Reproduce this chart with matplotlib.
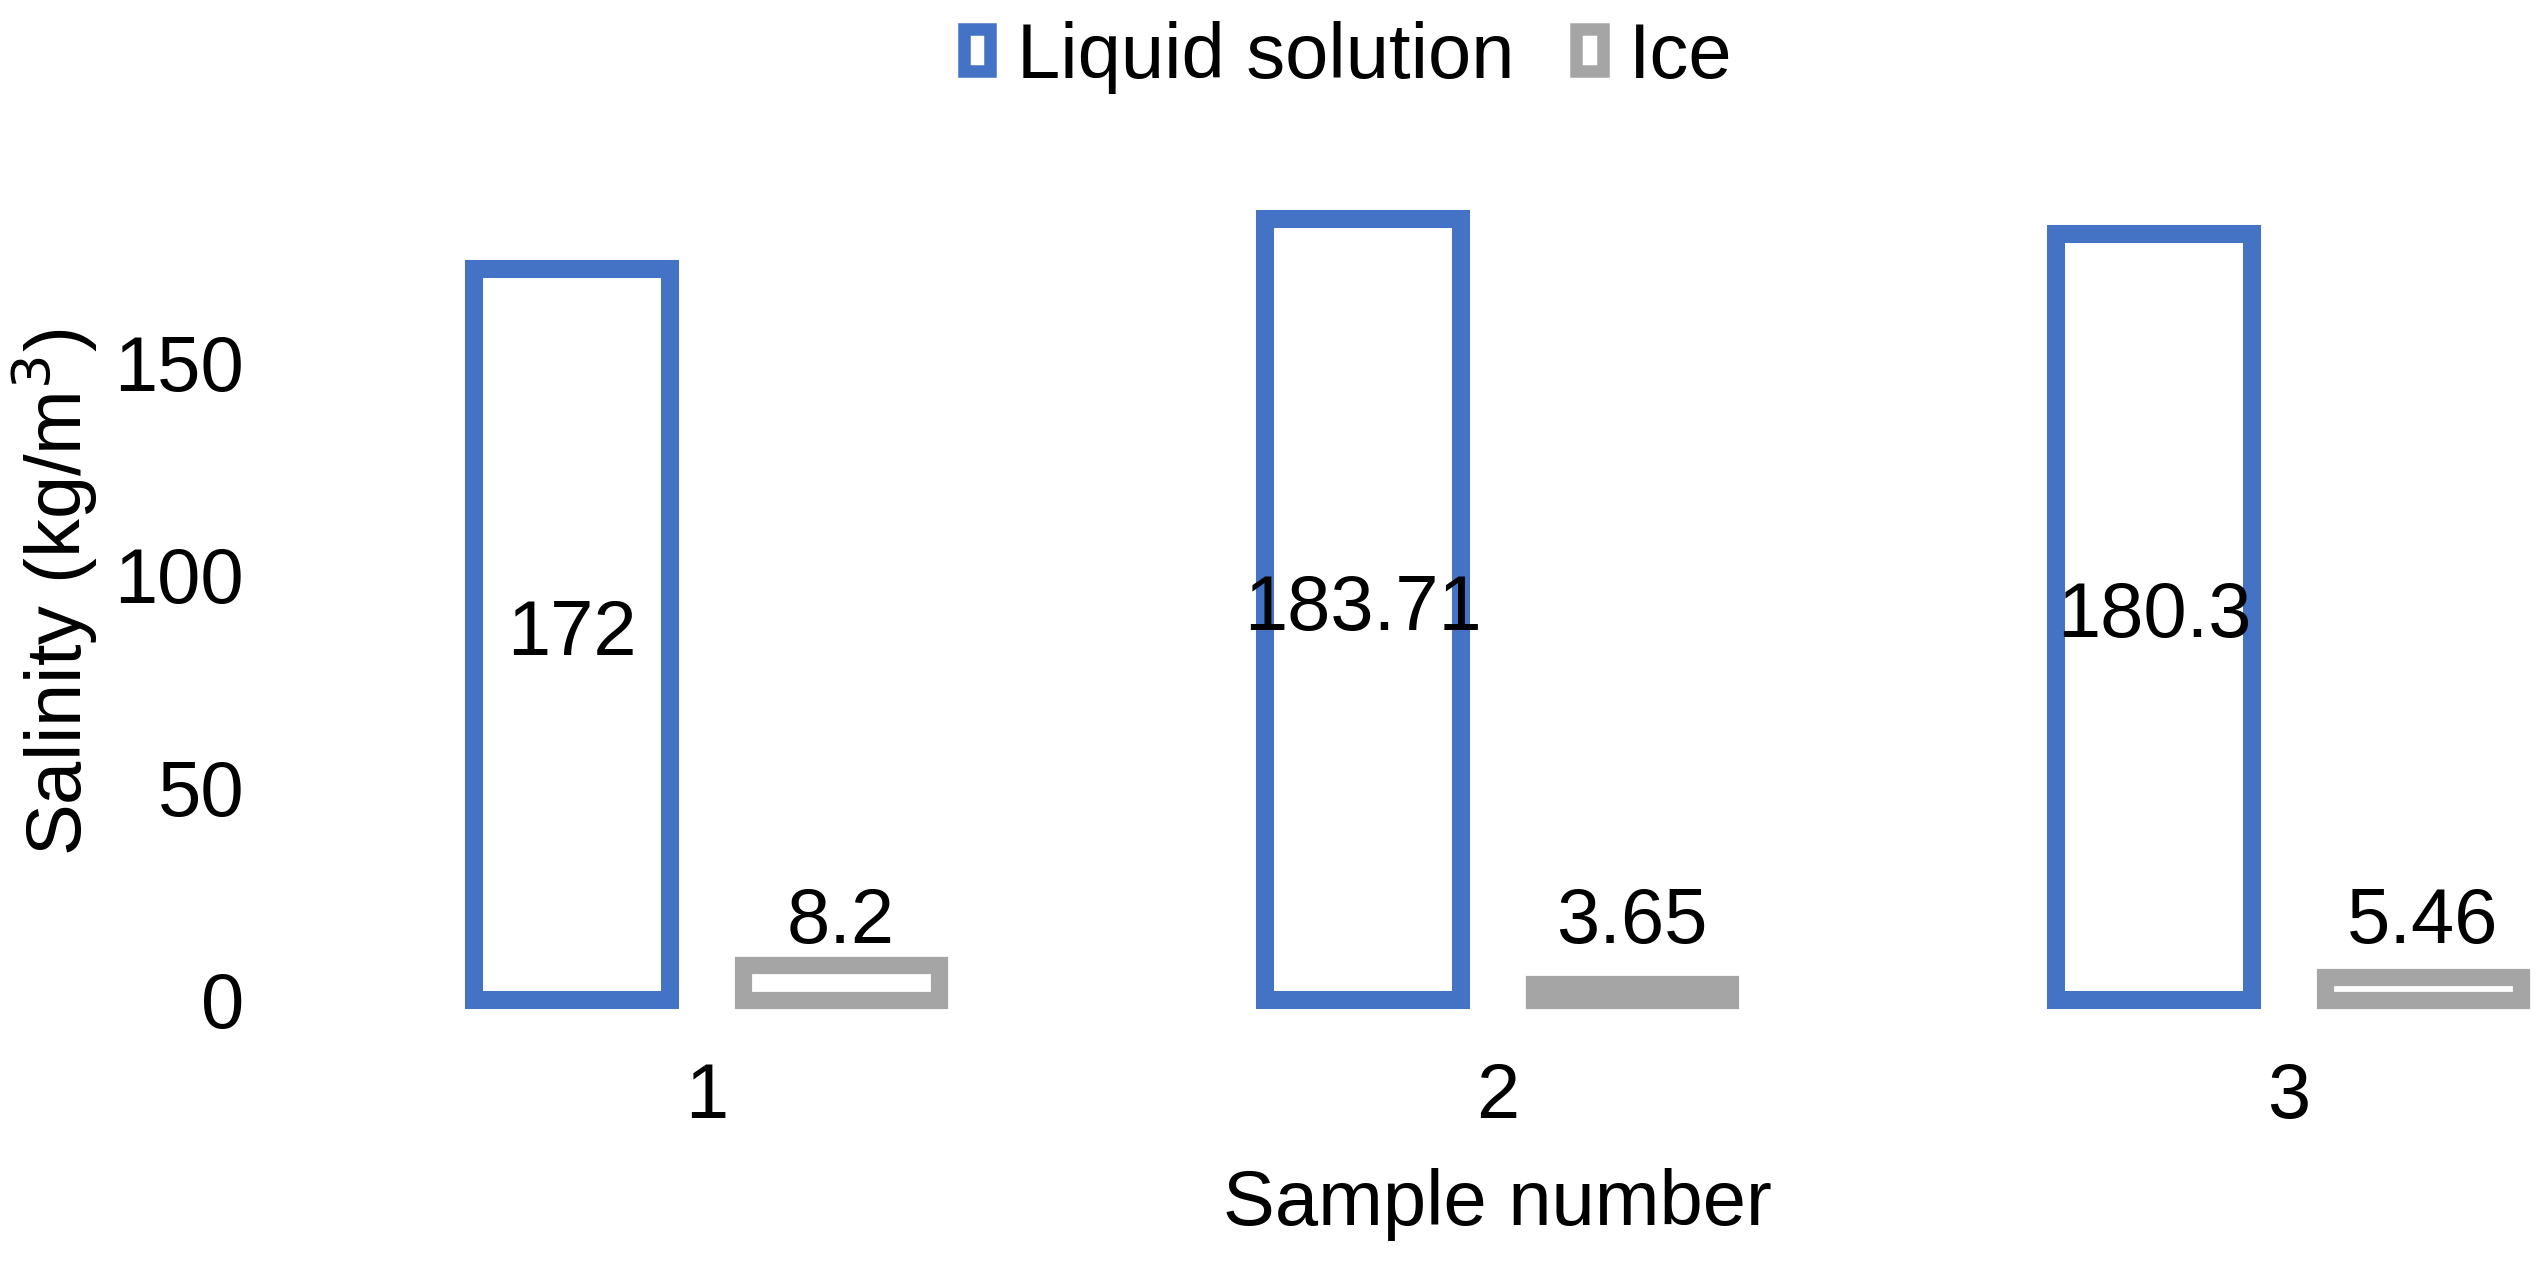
import matplotlib.pyplot as plt
import matplotlib.patches as mpatches
import numpy as np

plt.rcParams["font.family"] = ["Liberation Sans", "DejaVu Sans"]

samples = [1, 2, 3]
liquid = [172, 183.71, 180.3]
ice = [8.2, 3.65, 5.46]
liquid_labels = ["172", "183.71", "180.3"]
ice_labels = ["8.2", "3.65", "5.46"]

BLUE = "#4472C4"
GREY = "#A5A5A5"
FS = 28

fig = plt.figure(figsize=(12.72, 6.375), dpi=200)
# plot area runs past the right edge, like the cropped original
ax = fig.add_axes([0.1222, 0.2157, 0.9328, 0.6667])

x = np.array(samples, dtype=float)
width = 0.247
offset = 0.17

ax.bar(x - offset, liquid, width, facecolor="white", edgecolor=BLUE,
       linewidth=6.5, clip_on=False, zorder=2)
ax.bar(x + offset, ice, width, facecolor="white", edgecolor=GREY,
       linewidth=6.2, clip_on=False, zorder=2)

# value labels: liquid in bar centre, ice above the bars
for xi, v, lab in zip(x, liquid, liquid_labels):
    ax.text(xi - offset, v / 2, lab, ha="center", va="center", fontsize=FS)
ice_top = max(ice)
for xi, lab in zip(x, ice_labels):
    ax.annotate(lab, (xi + offset, ice_top), xytext=(0, 8),
                textcoords="offset points", ha="center", va="baseline",
                fontsize=FS)

ax.set_xlim(0.5, 3.5)
ax.set_ylim(0, 200)
ax.set_xticks(samples)
ax.set_xticklabels([str(s) for s in samples])
ax.set_yticks([0, 50, 100, 150])
ax.tick_params(axis="both", length=0, labelsize=FS)
ax.tick_params(axis="x", pad=22)
ax.tick_params(axis="y", pad=24)

for s in ax.spines.values():
    s.set_visible(False)

ax.set_xlabel("Sample number", fontsize=FS)
ax.xaxis.set_label_coords(0.5, -0.198)
ax.set_ylabel("Salinity (kg/m$^3$)", fontsize=FS)
ax.yaxis.set_label_coords(-0.089, 0.48)

handles = [
    mpatches.Patch(facecolor="white", edgecolor=BLUE, linewidth=4.5,
                   label="Liquid solution"),
    mpatches.Patch(facecolor="white", edgecolor=GREY, linewidth=4.5,
                   label="Ice"),
]
fig.legend(handles=handles, loc="center", bbox_to_anchor=(0.53, 0.955),
           ncol=2, frameon=False, fontsize=FS, handlelength=0.34,
           handleheight=0.45, handletextpad=0.34, columnspacing=0.8)

fig.savefig("out.png", dpi=200)
